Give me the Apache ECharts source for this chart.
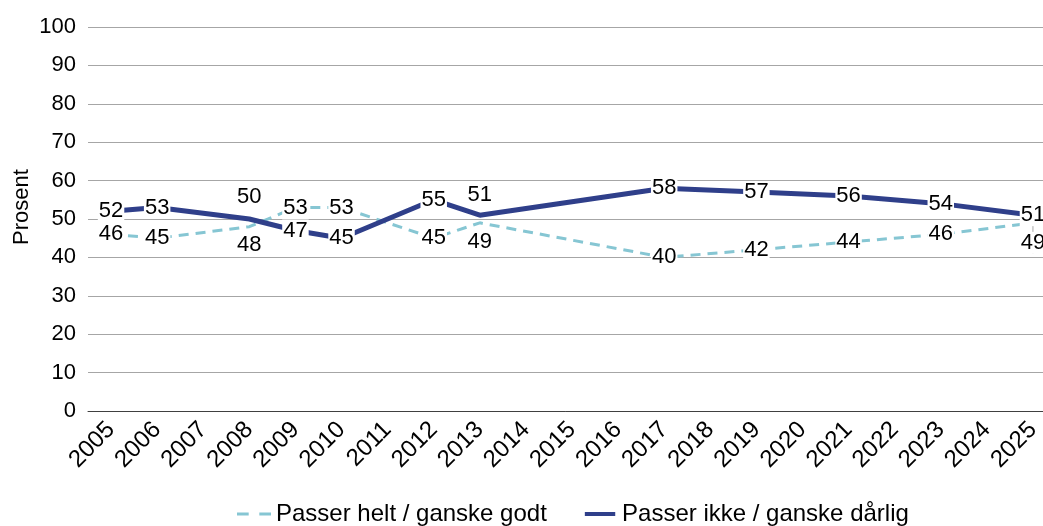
<!DOCTYPE html>
<html>
<head>
<meta charset="utf-8">
<script src="https://cdn.jsdelivr.net/npm/echarts@6/dist/echarts.min.js"></script>
<style>
html,body{margin:0;padding:0;background:#fff;}
#chart{width:1043px;height:526px;}
</style>
</head>
<body>
<div id="chart"></div>
<script>
const years = ['2005','2006','2007','2008','2009','2010','2011','2012','2013','2014','2015','2016','2017','2018','2019','2020','2021','2022','2023','2024','2025'];
const passerGodt = [46,45,null,48,53,53,null,45,49,null,null,null,40,null,42,null,44,null,46,null,49];
const passerDarlig = [52,53,null,50,47,45,null,55,51,null,null,null,58,null,57,null,56,null,54,null,51];
const yTicks = [0,10,20,30,40,50,60,70,80,90,100];
const seriesNames = ['Passer helt / ganske godt','Passer ikke / ganske dårlig'];

// label vertical shifts (style only) keyed by year
const shiftGodt = {'2008': 18, '2013': 19, '2025': 20};
const shiftDarlig = {'2008': -22, '2013': -20};

function build(vals, shifts, leader) {
  return vals.map((v, i) => {
    const y = years[i];
    if (v === null) return null;
    if (shifts[y] !== undefined) {
      const item = {value: v, label: {offset: [0, shifts[y]]}};
      if (leader && y === '2025') item.labelLine = {show: true, lineStyle: {color: '#A6A6A6', width: 1}};
      return item;
    }
    return v;
  });
}

const font = 'Liberation Sans, Arial, sans-serif';
const chart = echarts.init(document.getElementById('chart'), null, {renderer: 'canvas'});
const labelStyle = {
  show: true, position: 'inside', fontSize: 22, fontFamily: font, color: '#000',
  backgroundColor: '#fff', padding: [0, 1]
};
chart.setOption({
  animation: false,
  backgroundColor: '#fff',
  grid: {left: 88, width: 968, top: 27, bottom: 115, containLabel: false, outerBoundsMode: 'none'},
  legend: {
    left: 232, bottom: -5, itemWidth: 34, itemHeight: 4, itemGap: 38,
    textStyle: {fontSize: 24, fontFamily: font, color: '#000'},
    data: [
      {name: seriesNames[0], icon: 'path://M0,0h11v3h-11zM21,0h11v3h-11z'},
      {name: seriesNames[1], icon: 'path://M0,0h38v5h-38z'}
    ]
  },
  xAxis: {
    type: 'category', data: years, boundaryGap: true,
    axisLine: {lineStyle: {color: '#404040', width: 1}},
    axisTick: {show: false},
    axisLabel: {rotate: 45, fontSize: 24, fontFamily: font, color: '#000', margin: 15, interval: 0}
  },
  yAxis: {
    type: 'value', min: yTicks[0], max: yTicks[yTicks.length - 1], interval: 10,
    name: 'Prosent', nameLocation: 'middle', nameGap: 55, nameMoveOverlap: false,
    nameTextStyle: {fontSize: 22, fontFamily: font, color: '#000', padding: [0, 0, 0, 24]},
    axisLine: {show: false}, axisTick: {show: false},
    axisLabel: {fontSize: 22, fontFamily: font, color: '#000', margin: 12},
    splitLine: {lineStyle: {color: '#A6A6A6', width: 1}}
  },
  series: [
    {
      name: seriesNames[0], type: 'line', data: build(passerGodt, shiftGodt, true),
      connectNulls: true, symbol: 'circle', symbolSize: 0, showSymbol: true, z: 2,
      lineStyle: {color: '#86C6D3', width: 3, type: [10, 7]},
      itemStyle: {color: '#86C6D3'},
      label: labelStyle
    },
    {
      name: seriesNames[1], type: 'line', data: build(passerDarlig, shiftDarlig, false),
      connectNulls: true, symbol: 'circle', symbolSize: 0, showSymbol: true, z: 3,
      lineStyle: {color: '#2F3F8A', width: 5},
      itemStyle: {color: '#2F3F8A'},
      label: labelStyle
    }
  ]
});
</script>
</body>
</html>
